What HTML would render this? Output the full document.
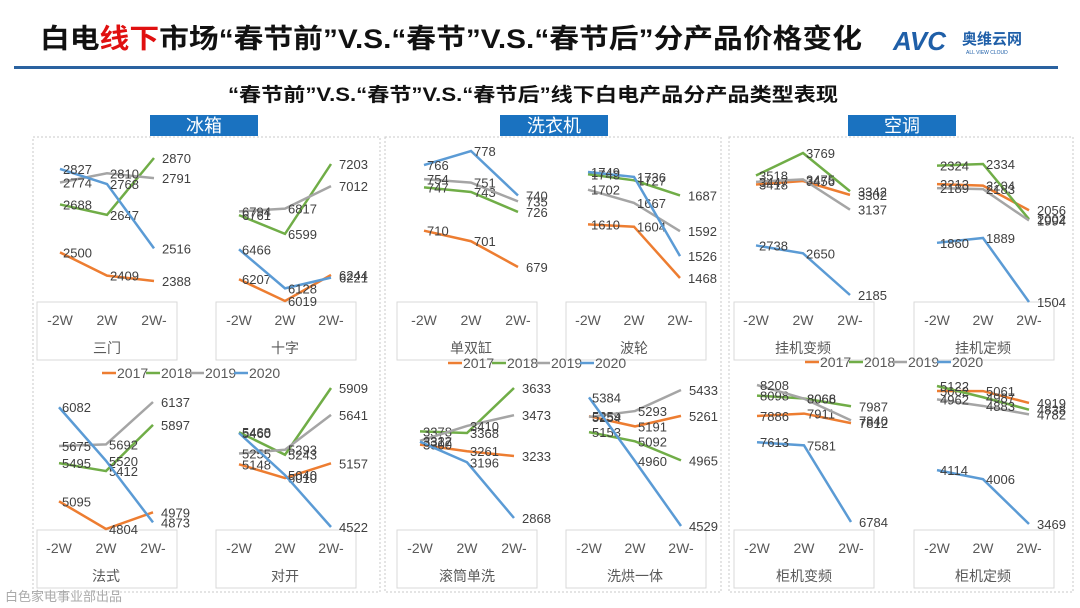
<!DOCTYPE html>
<html><head><meta charset="utf-8"><style>
body{margin:0;background:#fff;}
svg{display:block;font-family:"Liberation Sans","Noto Sans CJK SC",sans-serif;}
</style></head><body>
<svg id="s" width="1080" height="608" viewBox="0 0 1080 608">
<text x="40" y="48" font-size="27" font-weight="bold" textLength="822" lengthAdjust="spacingAndGlyphs" fill="#111">白电<tspan fill="#e01010">线下</tspan>市场“春节前”V.S.“春节”V.S.“春节后”分产品价格变化</text>
<g>
<text x="893" y="50" font-size="26" font-weight="bold" font-style="italic" fill="#1f5fa8">AVC</text>
<text x="962" y="44" font-size="15" font-weight="bold" fill="#1f5fa8">奥维云网</text>
<text x="966" y="54" font-size="5" fill="#1f5fa8">ALL VIEW CLOUD</text>
</g>
<rect x="14" y="66" width="1044" height="3" fill="#2a62a0"/>
<text x="228" y="101" font-size="19" font-weight="bold" textLength="610" lengthAdjust="spacingAndGlyphs" fill="#111">“春节前”V.S.“春节”V.S.“春节后”线下白电产品分产品类型表现</text>
<g id="frames"></g>
<g id="charts"></g>
<text x="5" y="601" font-size="13" fill="#aaa">白色家电事业部出品</text>
</svg>
<script>
const years=["2017","2018","2019","2020"];
const xTicks=["-2W","2W","2W-"];
const sections=["冰箱","洗衣机","空调"];
const categories=["三门","十字","单双缸","波轮","挂机变频","挂机定频","法式","对开","滚筒单洗","洗烘一体","柜机变频","柜机定频"];
const s2017=[[2500,2409,2388],[6207,6019,6244],[710,701,679],[1610,1604,1468],[3418,3456,3302],[2213,2204,2056],[5095,4804,4979],[5148,5010,5157],[3300,3261,3233],[5259,5191,5261],[7886,7911,7812],[5062,5061,4919]];
const s2018=[[2688,2647,2870],[6761,6599,7203],[747,743,726],[1743,1727,1687],[3518,3769,3342],[2324,2334,2002],[5495,5412,5897],[5468,5243,5909],[3378,3368,3633],[5153,5092,4965],[8098,8068,7987],[5122,4987,4838]];
const s2019=[[2774,2810,2791],[6794,6817,7012],[754,751,735],[1702,1667,1592],[3447,3475,3137],[2189,2183,1994],[5675,5692,6137],[5255,5293,5641],[3322,3410,3473],[5254,5293,5433],[8208,8066,7840],[4962,4883,4782]];
const s2020=[[2827,2768,2516],[6466,6128,6221],[766,778,740],[1749,1736,1526],[2738,2650,2185],[1860,1889,1504],[6082,5520,4873],[5460,5040,4522],[3317,3196,2868],[5384,4960,4529],[7613,7581,6784],[4114,4006,3469]];
const series=[s2017,s2018,s2019,s2020];
const colors=["#ED7D31","#70AD47","#A5A5A5","#5B9BD5"];
const NS="http://www.w3.org/2000/svg";
function el(tag,attrs,parent){const e=document.createElementNS(NS,tag);for(const k in attrs)e.setAttribute(k,attrs[k]);parent.appendChild(e);return e;}
const frames=document.getElementById('frames'),charts=document.getElementById('charts');
const secX=[[33,380],[385,721],[729,1073]];
const secHdr=[150,500,848];
secX.forEach((sx,i)=>{
 const r=el('rect',{x:sx[0],y:137,width:sx[1]-sx[0],height:455,fill:'none',stroke:'#c8c8c8','stroke-dasharray':'2,2'},frames);
 
 
 const b=el('rect',{x:secHdr[i],y:115,width:108,height:21,fill:'#1a72c0'},frames);
 
 
 const t=el('text',{x:secHdr[i]+54,y:132,'font-size':18,fill:'#fff','text-anchor':'middle'},frames);
 t.textContent=sections[i];
 
 
});
const geo=[
 [60,47,158,281,37],[239,46,164,301,216],[424,47,151,267,397],[588,46,172,278,566],[756,47,153,295,734],[937,46,164,302,914],
 [59,47,402,529,37],[239,46,388,527,216],[420,47,388,518,397],[589,46,390,526,566],[757,47,385,522,734],[937,46,386,524,914]];
categories.forEach((cat,ci)=>{
 const g=geo[ci];const top=ci<6;
 const gg=el('g',{},charts);
 
 
 let all=[];series.forEach(s=>all=all.concat(s[ci]));
 const mx=Math.max(...all),mn=Math.min(...all);
 const xs=i=>g[0]+i*g[1];
 const ys=v=>g[2]+(mx-v)/(mx-mn)*(g[3]-g[2]);
 const by=top?302:530;
 const bx=el('rect',{x:g[4],y:by,width:140,height:58,fill:'none',stroke:'#d9d9d9'},gg);
 
 
 xTicks.forEach((t,i)=>{const tx=el('text',{x:xs(i),y:by+23,'font-size':14,fill:'#595959','text-anchor':'middle'},gg);tx.textContent=t;
  
  });
 const cn=el('text',{x:g[0]+g[1],y:by+51,'font-size':14,fill:'#595959','text-anchor':'middle'},gg);cn.textContent=cat;
 
 
 series.forEach((s,si)=>{
  const d=s[ci];
  const pl=el('polyline',{points:d.map((v,i)=>xs(i)+','+ys(v)).join(' '),fill:'none',stroke:colors[si],'stroke-width':2.5},gg);
  
  
  d.forEach((v,i)=>{
   const lt=el('text',{x:xs(i)+(i==2?8:3),y:ys(v)+5,'font-size':13,fill:'#404040'},gg);lt.textContent=v;
   
   
  });
 });
});
const legPos=[[102,378],[448,368],[805,367]];
legPos.forEach(p=>{
 const lg=el('g',{},charts);
 
 
 years.forEach((y,i)=>{
  const x0=p[0]+i*44;
  const ln=el('line',{x1:x0,y1:p[1]-5,x2:x0+14,y2:p[1]-5,stroke:colors[i],'stroke-width':2.5},lg);
  
  
  const t=el('text',{x:x0+15,y:p[1],'font-size':14,fill:'#595959'},lg);t.textContent=y;
  
  
 });
});
</script>
</body></html>
